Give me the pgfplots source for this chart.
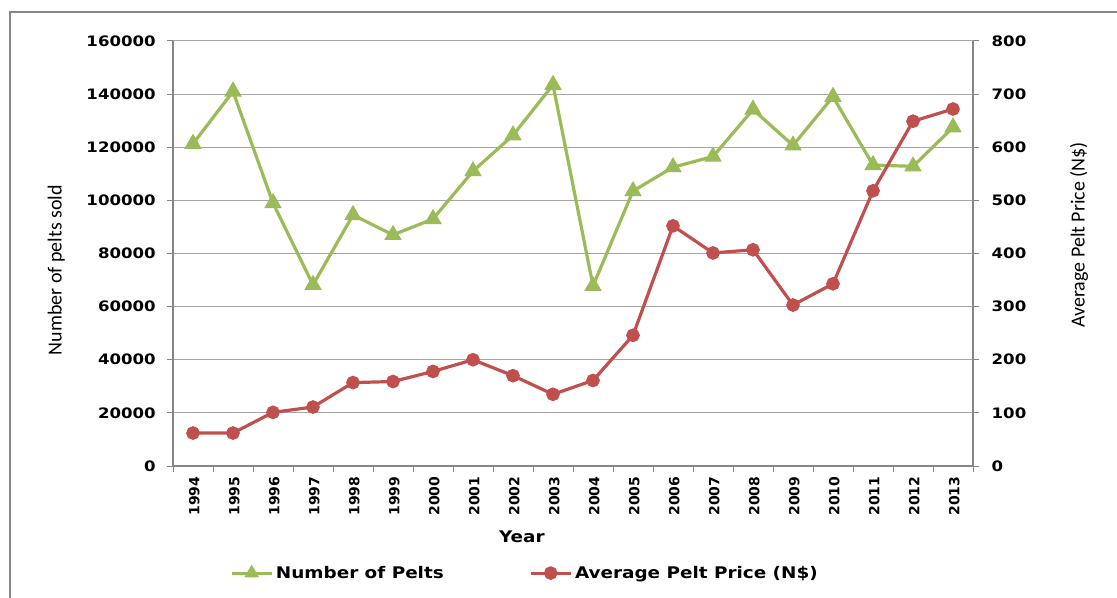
\documentclass[border=0pt]{standalone}
\usepackage{fontspec}
\usepackage{pgfplots}
\pgfplotsset{compat=1.18}
\newfontfamily\dvs{DejaVu Sans}[FakeStretch=1.15]
\newfontfamily\dvn{DejaVu Sans}
\newfontfamily\carl{Carlito}
\definecolor{pgreen}{HTML}{9BBB59}
\definecolor{pred}{HTML}{C0504D}
\definecolor{axgray}{HTML}{868686}
\definecolor{grgray}{HTML}{A6A6A6}
\begin{document}
\begin{tikzpicture}
\useasboundingbox (0,0) rectangle (837.75pt,-448.5pt);
\draw[axgray, line width=0.9pt] (7.5pt,-448.5pt) -- (7.5pt,-9pt) -- (837.75pt,-9pt);
\begin{axis}[
  at={(129.75pt,-349.5pt)}, anchor=south west,
  scale only axis, width=600pt, height=318.75pt,
  xmin=-0.5, xmax=19.5, ymin=0, ymax=160000,
  axis y line*=left, axis x line*=bottom,
  axis line style={axgray, line width=0.9pt, -},
  ymajorgrids, major grid style={grgray, line width=0.75pt},
  tick align=outside, major tick length=4.5pt, minor tick length=4.5pt,
  tick style={axgray, line width=0.75pt},
  every major x tick/.append style={draw=none},
  xtick={0,...,19},
  minor xtick={-0.5,0.5,...,19.5},
  xticklabels={1994,1995,1996,1997,1998,1999,2000,2001,2002,2003,2004,2005,2006,2007,2008,2009,2010,2011,2012,2013},
  xticklabel style={rotate=90, anchor=east, yshift=-1pt, font=\dvn\bfseries\fontsize{10.5}{12}\selectfont},
  ytick={0,20000,...,160000},
  scaled y ticks=false,
  yticklabel style={font=\dvs\bfseries\fontsize{10.8}{12}\selectfont, xshift=-5pt},
  yticklabel style={/pgf/number format/.cd, fixed, set thousands separator={}, assume math mode=true},
  xlabel={Year},
  xlabel style={at={(axis description cs:0.436,-0.167)}, anchor=center, font=\dvs\bfseries\fontsize{12}{14}\selectfont},
  ylabel={Number of pelts sold},
  ylabel style={at={(axis description cs:-0.146,0.461)}, anchor=center, font=\carl\fontsize{15}{17}\selectfont},
]
\addplot[pgreen, line width=2.4pt, mark=triangle*, mark size=5.2pt, mark options={solid}] coordinates {
(0,121300) (1,141000) (2,99000) (3,68200) (4,94500) (5,87000) (6,93000) (7,111000) (8,124500) (9,143500)
(10,67800) (11,103500) (12,112500) (13,116500) (14,134200) (15,120700) (16,139000) (17,113300) (18,112800) (19,127500)};
\end{axis}
\begin{axis}[
  at={(129.75pt,-349.5pt)}, anchor=south west,
  scale only axis, width=600pt, height=318.75pt,
  xmin=-0.5, xmax=19.5, ymin=0, ymax=800,
  axis y line*=right, axis x line=none,
  axis line style={axgray, line width=0.9pt, -},
  tick align=outside, major tick length=4.5pt,
  tick style={axgray, line width=0.75pt},
  ytick={0,100,...,800},
  yticklabel style={font=\dvs\bfseries\fontsize{10.8}{12}\selectfont, xshift=6pt},
  yticklabel style={/pgf/number format/assume math mode=true},
  ylabel={Average Pelt Price (N\$)},
  ylabel style={at={(axis description cs:1.1325,0.5435)}, anchor=center, font=\carl\fontsize{15}{17}\selectfont},
  legend columns=2,
  legend style={at={(0.071,-0.252)}, anchor=west, draw=none, fill=none, inner sep=0pt,
    font=\dvs\bfseries\fontsize{12}{14}\selectfont,
    /tikz/every even column/.append style={column sep=62pt}},
  legend image code/.code={\draw[mark repeat=2,mark phase=2,#1] plot coordinates {(0pt,0pt) (15pt,0pt) (30pt,0pt)};},
]
\addlegendimage{pgreen, line width=2.4pt, mark=triangle*, mark size=4pt, mark options={solid}}
\addlegendentry{Number of Pelts}
\addplot[pred, line width=2.4pt, mark=*, mark size=3.9pt, mark options={solid}] coordinates {
(0,62) (1,62) (2,101) (3,111) (4,157) (5,159) (6,178) (7,200) (8,170) (9,135)
(10,161) (11,246) (12,452) (13,401) (14,407) (15,303) (16,343) (17,518) (18,649) (19,672)};
\addlegendentry{Average Pelt Price (N\$)}
\end{axis}
\end{tikzpicture}
\end{document}
